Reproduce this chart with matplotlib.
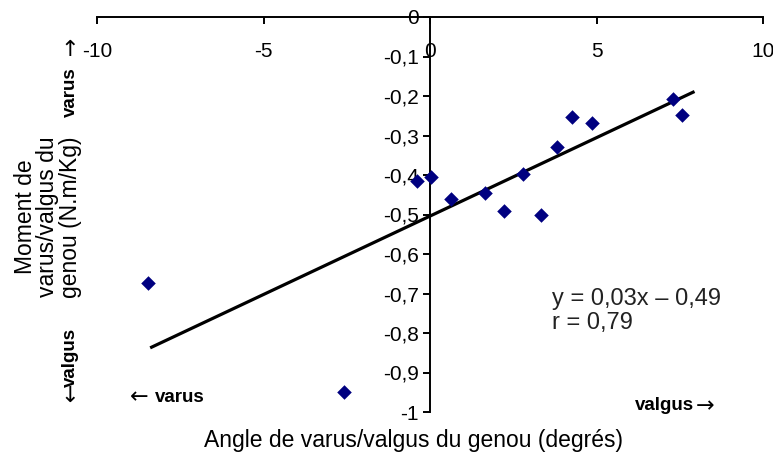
import numpy as np
import matplotlib
matplotlib.use("Agg")
import matplotlib.pyplot as plt
from matplotlib.ticker import FuncFormatter

plt.rcParams['font.family'] = ['Liberation Sans', 'DejaVu Sans']

# knee angle (deg) vs knee moment (N.m/Kg)
angle = [-8.48, -2.57, -0.40, 0.02, 0.62, 1.65, 2.23, 2.80, 3.32, 3.80, 4.27, 4.87, 7.30, 7.57]
moment = [-0.674, -0.949, -0.415, -0.404, -0.461, -0.446, -0.491, -0.398, -0.501, -0.328,
          -0.254, -0.268, -0.208, -0.248]

# regression line as drawn
fit_x = [-8.36, 7.90]
fit_slope = 0.0397
fit_icpt = -0.504

x_ticks = [-10, -5, 0, 5, 10]
y_ticks = [0, -0.1, -0.2, -0.3, -0.4, -0.5, -0.6, -0.7, -0.8, -0.9, -1]

W, H = 773, 453
fig = plt.figure(figsize=(W / 100, H / 100), dpi=100)
ax = fig.add_axes([97 / W, 1 - 412 / H, (763 - 97) / W, (412 - 17) / H])

ax.set_xlim(-10, 10)
ax.set_ylim(-1, 0)

fx = np.array(fit_x)
ax.plot(fx, fit_slope * fx + fit_icpt, color='black', lw=2.3, zorder=2)
ax.scatter(angle, moment, marker='D', s=55, color='#000080', zorder=3, linewidths=0)

ax.spines['right'].set_visible(False)
ax.spines['top'].set_visible(False)
ax.spines['bottom'].set_position(('data', 0))
ax.spines['left'].set_position(('data', 0))
for s in ('bottom', 'left'):
    ax.spines[s].set_linewidth(1.4)
ax.patch.set_visible(False)

ax.set_xticks(x_ticks)
ax.set_yticks(y_ticks)
fmt = FuncFormatter(lambda v, p: ('%g' % v).replace('.', ','))
ax.xaxis.set_major_formatter(fmt)
ax.yaxis.set_major_formatter(fmt)
ax.tick_params(axis='x', direction='out', length=5, width=1.4, pad=13, labelsize=15)
ax.tick_params(axis='y', direction='out', length=5, width=1.4, pad=3, labelsize=15)

ax.text(3.65, -0.744, 'y = 0,03x \u2013 0,49\nr = 0,79', fontsize=17, color='#222222',
        va='center', ha='left', linespacing=1.15)

fig.text(414 / W, 1 - 440 / H, 'Angle de varus/valgus du genou (degrés)', fontsize=16.5,
         ha='center', va='center')
fig.text(48 / W, 1 - 217 / H, 'Moment de\nvarus/valgus du\ngenou (N.m/Kg)', fontsize=16.5,
         ha='center', va='center', rotation=90, linespacing=0.95)

bold = dict(fontsize=13.5, fontweight='bold', va='center')
arrow = dict(fontsize=16, family='DejaVu Sans', va='center', ha='center')

fig.text(70 / W, 1 - 92 / H, 'varus', rotation=90, ha='center', **bold)
fig.text(70 / W, 1 - 50 / H, '\u2191', **arrow)
fig.text(70 / W, 1 - 357 / H, 'valgus', rotation=90, ha='center', **bold)
fig.text(70 / W, 1 - 396 / H, '\u2193', **arrow)
fig.text(139 / W, 1 - 397 / H, '\u2190', **arrow)
fig.text(155 / W, 1 - 397 / H, 'varus', ha='left', **bold)
fig.text(635 / W, 1 - 406 / H, 'valgus', ha='left', **bold)
fig.text(705 / W, 1 - 406 / H, '\u2192', **arrow)

fig.savefig('out.png', dpi=100)
